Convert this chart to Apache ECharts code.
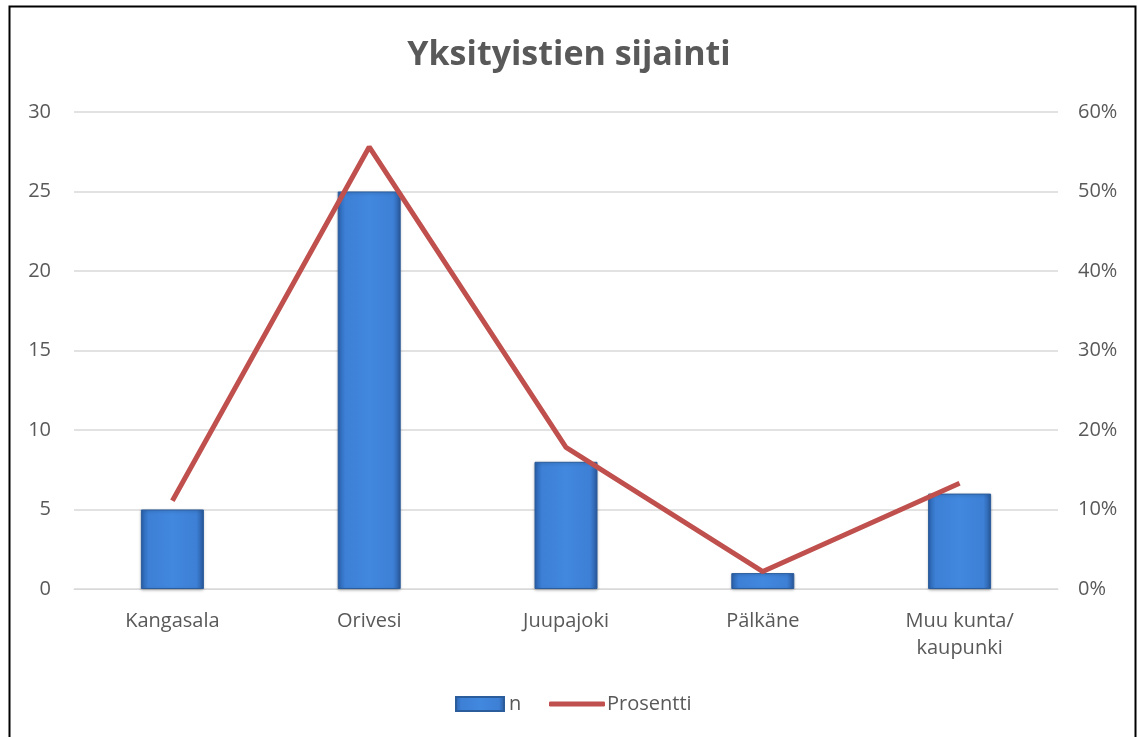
<!DOCTYPE html>
<html><head><meta charset="utf-8">
<script src="https://cdn.jsdelivr.net/npm/echarts@6/dist/echarts.min.js"></script>
<style>html,body{margin:0;padding:0;background:#fff}#c{width:1138px;height:737px}</style>
</head><body><div id="c"></div>
<script>
const categories = ['Kangasala', 'Orivesi', 'Juupajoki', 'Pälkäne', 'Muu kunta/\nkaupunki'];
const nValues = [5, 25, 8, 1, 6];
const percentValues = [0.111, 0.556, 0.178, 0.022, 0.133];
const leftTicks = [0, 5, 10, 15, 20, 25, 30];

const chart = echarts.init(document.getElementById('c'));
const font = '"Open Sans", sans-serif';
const fs = 20;
const barColor = {
  type: 'linear', x: 0, y: 0, x2: 1, y2: 0,
  colorStops: [
    {offset: 0, color: '#2a62ad'},
    {offset: 0.12, color: '#3d80d6'},
    {offset: 0.5, color: '#4188de'},
    {offset: 0.88, color: '#3d80d6'},
    {offset: 1, color: '#2a5a9e'}
  ]
};
chart.setOption({
  animation: false,
  textStyle: {fontFamily: font},
  title: {
    text: 'Yksityistien sijainti', left: 'center', top: 33,
    textStyle: {fontFamily: font, fontSize: 34, fontWeight: 'bold', color: '#595959'}
  },
  graphic: [{
    type: 'rect', shape: {x: 9.5, y: 6.5, width: 1126, height: 740},
    style: {fill: 'none', stroke: '#000', lineWidth: 2}, silent: true
  }],
  legend: [{
    left: 455, top: 694, padding: 0, itemWidth: 48, itemHeight: 14, itemGap: 10,
    textStyle: {fontFamily: font, fontSize: fs, color: '#595959'},
    data: [{name: 'n', icon: 'rect'}]
  }, {
    left: 549, top: 694, padding: 0, itemWidth: 56, itemHeight: 5, itemGap: 10,
    textStyle: {fontFamily: font, fontSize: fs, color: '#595959', padding: [0, 0, 0, -3]},
    data: [{name: 'Prosentti', icon: 'roundRect'}]
  }],
  grid: {left: 74, right: 80, top: 112, bottom: 148},
  xAxis: {
    type: 'category', data: categories,
    axisLine: {lineStyle: {color: '#d9d9d9'}},
    axisTick: {show: false},
    axisLabel: {fontFamily: font, fontSize: fs, color: '#595959', margin: 19, lineHeight: 27}
  },
  yAxis: [{
    type: 'value', min: 0, max: 30, interval: 5,
    axisLine: {show: false}, axisTick: {show: false},
    splitLine: {lineStyle: {color: '#d9d9d9', width: 1.5}},
    axisLabel: {fontFamily: font, fontSize: fs, color: '#595959', margin: 23,
      formatter: v => leftTicks.includes(v) ? String(v) : ''}
  }, {
    type: 'value', min: 0, max: 0.6, interval: 0.1,
    axisLine: {show: false}, axisTick: {show: false}, splitLine: {show: false},
    axisLabel: {fontFamily: font, fontSize: fs, color: '#595959', margin: 20,
      formatter: v => Math.round(v * 100) + '%'}
  }],
  series: [{
    name: 'n', type: 'bar', data: nValues, barWidth: 63,
    itemStyle: {color: barColor, borderColor: '#2b5c9c', borderWidth: 1,
      shadowColor: 'rgba(0,0,0,0.25)', shadowBlur: 3, shadowOffsetY: 1}
  }, {
    name: 'Prosentti', type: 'line', yAxisIndex: 1, data: percentValues,
    symbol: 'none', lineStyle: {color: '#c0504d', width: 5},
    itemStyle: {color: '#c0504d'}
  }]
});
</script></body></html>
